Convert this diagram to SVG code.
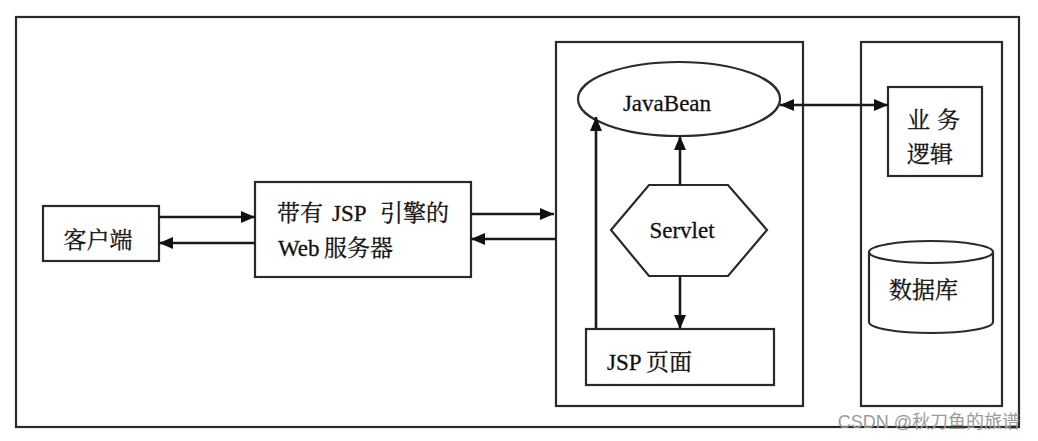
<svg xmlns="http://www.w3.org/2000/svg" width="1038" height="441" viewBox="0 0 1038 441">
<style>
.box{fill:#fff;stroke:#2a2a2a;stroke-width:2.2}
.ln{fill:none;stroke:#1a1a1a;stroke-width:2.6}
.t{font-family:"Liberation Serif","Noto Serif CJK SC","Noto Sans CJK SC",serif;font-size:23px;fill:#111;stroke:#111;stroke-width:0.3}
.wm{font-family:"Liberation Sans","Noto Sans CJK SC",sans-serif;font-size:18px;fill:#9a9a9a}
</style>
<defs>
<marker id="ah" viewBox="0 0 14 12" refX="14" refY="6" markerWidth="14" markerHeight="12" markerUnits="userSpaceOnUse" orient="auto-start-reverse">
<path d="M0,0 L14,6 L0,12 Z" fill="#111"/>
</marker>
</defs>
<rect width="1038" height="441" fill="#fff"/>
<rect id="frame" class="box" x="16" y="17" width="1003" height="410" fill="none"/>
<g id="client"><rect class="box" x="43" y="206" width="116" height="55"/><text class="t" x="98" y="248" text-anchor="middle">客户端</text></g>
<g id="webserver"><rect class="box" x="255" y="182" width="216" height="95"/><text class="t" y="221"><tspan x="277">带有</tspan><tspan x="332">JSP</tspan><tspan x="380">引擎的</tspan></text><text class="t" y="256"><tspan x="278">Web</tspan><tspan x="324">服务器</tspan></text></g>
<g id="container"><rect class="box" x="556" y="42" width="247" height="364"/></g>
<g id="javabean"><ellipse class="box" cx="679" cy="99" rx="101" ry="37"/><text class="t" x="667" y="111" text-anchor="middle">JavaBean</text></g>
<g id="servlet"><polygon class="box" points="611,230 649,185 728,185 767,230 728,276 649,276"/><text class="t" x="682" y="238" text-anchor="middle">Servlet</text></g>
<g id="jsp"><rect class="box" x="586" y="329" width="188" height="56"/><text class="t" y="370"><tspan x="607">JSP</tspan><tspan x="646">页面</tspan></text></g>
<g id="backend"><rect class="box" x="861" y="42" width="141" height="364"/></g>
<g id="logic"><rect class="box" x="888" y="87" width="94" height="89"/><text class="t" y="128"><tspan x="907">业</tspan><tspan x="937">务</tspan></text><text class="t" x="907" y="162">逻辑</text></g>
<g id="db"><path class="box" d="M869,252 A62,11 0 0 1 993,252 L993,322 A62,11 0 0 1 869,322 Z"/><path class="ln" style="stroke-width:2.2;stroke:#2a2a2a" d="M869,252 A62,11 0 0 0 993,252"/><text class="t" x="889" y="298">数据库</text></g>
<g id="connectors">
<line class="ln" x1="159" y1="217" x2="255" y2="217" marker-end="url(#ah)"/>
<line class="ln" x1="255" y1="243" x2="159" y2="243" marker-end="url(#ah)"/>
<line class="ln" x1="471" y1="214" x2="554" y2="214" marker-end="url(#ah)"/>
<line class="ln" x1="556" y1="239" x2="471" y2="239" marker-end="url(#ah)"/>
<line class="ln" x1="680" y1="185" x2="680" y2="136" marker-end="url(#ah)"/>
<line class="ln" x1="680" y1="276" x2="680" y2="329" marker-end="url(#ah)"/>
<line class="ln" x1="596" y1="329" x2="596" y2="117" marker-end="url(#ah)"/>
<line class="ln" x1="780" y1="105" x2="888" y2="105" marker-start="url(#ah)" marker-end="url(#ah)"/>
</g>
<text class="wm" x="1020" y="428" text-anchor="end">CSDN @秋刀鱼的旅谱</text>
</svg>
